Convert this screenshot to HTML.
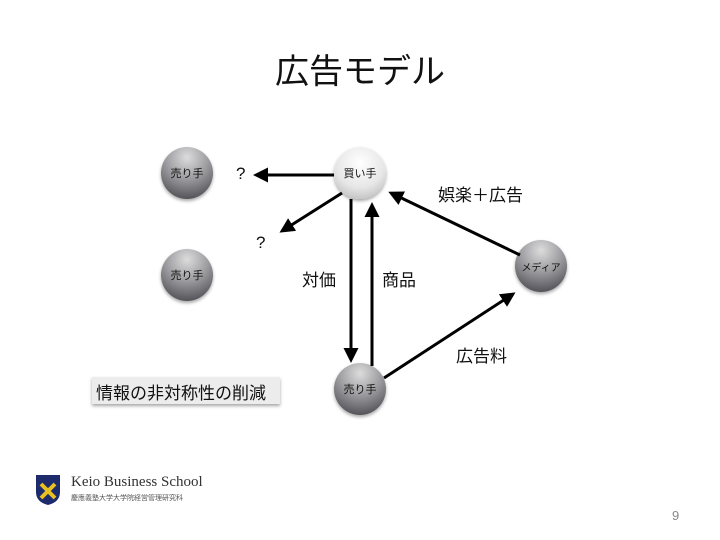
<!DOCTYPE html>
<html><head><meta charset="utf-8"><style>
body{margin:0;width:720px;height:540px;background:#fff;overflow:hidden;font-family:"Liberation Sans","Noto Sans CJK JP",sans-serif;position:relative}
.t{position:absolute;color:#111;white-space:nowrap}
</style></head><body>
<svg width="720" height="540" style="position:absolute;left:0;top:0">
<defs>
<radialGradient id="dk" cx="0.5" cy="0.2" r="0.85"><stop offset="0" stop-color="#dcdcdc"/><stop offset="0.5" stop-color="#9a9a9e"/><stop offset="1" stop-color="#4a4a50"/></radialGradient>
<radialGradient id="lt" cx="0.5" cy="0.3" r="0.8"><stop offset="0" stop-color="#ffffff"/><stop offset="0.6" stop-color="#e6e6e6"/><stop offset="1" stop-color="#b8b8b8"/></radialGradient>
<marker id="a" markerWidth="5" markerHeight="5" refX="4" refY="2.5" orient="auto"><path d="M0,0L5,2.5L0,5z" fill="#000"/></marker>
<filter id="sh"><feDropShadow dx="0" dy="2" stdDeviation="1.5" flood-opacity="0.35"/></filter>
</defs>
<g filter="url(#sh)">
<circle cx="187" cy="173" r="26" fill="url(#dk)"/>
<circle cx="187" cy="275" r="26" fill="url(#dk)"/>
<circle cx="360" cy="389" r="26" fill="url(#dk)"/>
<circle cx="541" cy="266" r="26" fill="url(#dk)"/>
<circle cx="360" cy="173" r="26" fill="url(#lt)"/>
<rect x="92" y="377" width="188" height="27" fill="#ececec"/>
</g>
<g stroke="#000" stroke-width="3" marker-end="url(#a)">
<line x1="334" y1="175" x2="256" y2="175"/>
<line x1="342" y1="193" x2="282" y2="231"/>
<line x1="351" y1="199" x2="351" y2="360"/>
<line x1="372" y1="366" x2="372" y2="205"/>
<line x1="520" y1="255" x2="391" y2="193"/>
<line x1="384" y1="378" x2="513" y2="294"/>
</g>
</svg>
<div class="t" style="left:0;width:720px;text-align:center;top:44px;font-size:34px">広告モデル</div>
<div class="t" style="left:167px;top:165px;font-size:11px;width:40px;text-align:center">売り手</div>
<div class="t" style="left:167px;top:267px;font-size:11px;width:40px;text-align:center">売り手</div>
<div class="t" style="left:340px;top:381px;font-size:11px;width:40px;text-align:center">売り手</div>
<div class="t" style="left:340px;top:165px;font-size:11px;width:40px;text-align:center">買い手</div>
<div class="t" style="left:516px;top:259px;font-size:10px;width:50px;text-align:center">メディア</div>
<div class="t" style="left:236px;top:164px;font-size:17px">?</div>
<div class="t" style="left:256px;top:233px;font-size:17px">?</div>
<div class="t" style="left:302px;top:266px;font-size:17px">対価</div>
<div class="t" style="left:382px;top:266px;font-size:17px">商品</div>
<div class="t" style="left:438px;top:181px;font-size:17px">娯楽＋広告</div>
<div class="t" style="left:456px;top:342px;font-size:17px">広告料</div>
<div class="t" style="left:96px;top:379px;font-size:17px">情報の非対称性の削減</div>
<svg width="26" height="32" style="position:absolute;left:35px;top:474px"><path d="M1,1H25V18Q25,28 13,31Q1,28 1,18Z" fill="#1d2a6b"/><path d="M6,10L20,24M20,10L6,24" stroke="#e8c020" stroke-width="4"/></svg>
<div class="t" style="left:71px;top:474px;font-family:'Liberation Serif',serif;font-size:15px;color:#333">Keio Business School</div>
<div class="t" style="left:71px;top:493px;font-size:7px;color:#555">慶應義塾大学大学院経営管理研究科</div>
<div class="t" style="left:672px;top:508px;font-size:13px;color:#888">9</div>
</body></html>
